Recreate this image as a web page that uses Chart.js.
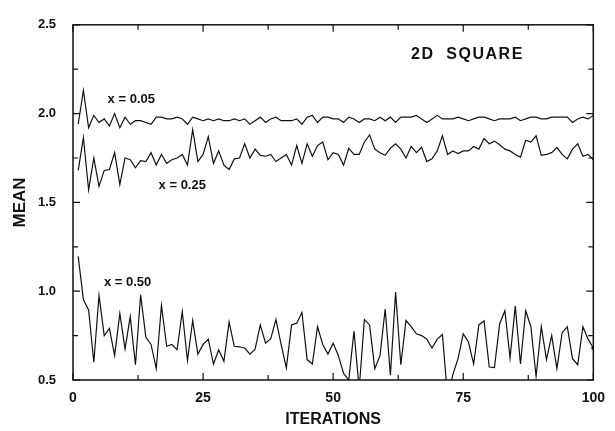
<!DOCTYPE html>
<html>
<head>
<meta charset="utf-8">
<script src="https://cdn.jsdelivr.net/npm/chart.js@4/dist/chart.umd.min.js"></script>
<style>
  html, body { margin: 0; padding: 0; background: #fff; }
  #wrap { width: 615px; height: 431px; }
</style>
</head>
<body>
<div id="wrap"><canvas id="c" width="615" height="431"></canvas></div>
<script>
// iteration number of every point
var iterations = [1,2,3,4,5,6,7,8,9,10,11,12,13,14,15,16,17,18,19,20,
  21,22,23,24,25,26,27,28,29,30,31,32,33,34,35,36,37,38,39,40,
  41,42,43,44,45,46,47,48,49,50,51,52,53,54,55,56,57,58,59,60,
  61,62,63,64,65,66,67,68,69,70,71,72,73,74,75,76,77,78,79,80,
  81,82,83,84,85,86,87,88,89,90,91,92,93,94,95,96,97,98,99,100];

// mean for x = 0.05
var mean005 = [1.94,2.13,1.92,1.99,1.95,1.97,1.93,2.00,1.92,1.98,
  1.94,1.96,1.96,1.95,1.94,1.98,1.98,1.97,1.97,1.98,
  1.97,1.94,1.98,1.97,1.96,1.97,1.96,1.97,1.96,1.96,
  1.97,1.96,1.97,1.94,1.96,1.98,1.95,1.97,1.98,1.96,
  1.96,1.96,1.97,1.94,1.98,1.99,1.95,1.98,1.98,1.97,
  1.97,1.95,1.98,1.97,1.95,1.97,1.97,1.96,1.98,1.96,
  1.98,1.95,1.98,1.98,1.98,1.99,1.97,1.95,1.97,1.99,
  1.97,1.97,1.97,1.98,1.97,1.96,1.97,1.98,1.98,1.97,
  1.96,1.97,1.97,1.97,1.98,1.96,1.97,1.98,1.98,1.97,
  1.97,1.98,1.98,1.98,1.98,1.95,1.97,1.98,1.97,1.99];

// mean for x = 0.25
var mean025 = [1.68,1.865,1.57,1.75,1.59,1.68,1.685,1.78,1.60,1.75,
  1.74,1.695,1.735,1.73,1.78,1.71,1.77,1.72,1.74,1.75,
  1.77,1.71,1.91,1.73,1.77,1.87,1.72,1.79,1.71,1.685,
  1.745,1.75,1.83,1.75,1.80,1.765,1.76,1.77,1.73,1.75,
  1.77,1.71,1.82,1.72,1.83,1.76,1.82,1.84,1.74,1.78,
  1.77,1.71,1.805,1.77,1.77,1.84,1.88,1.80,1.78,1.765,
  1.805,1.83,1.80,1.75,1.815,1.78,1.81,1.73,1.745,1.79,
  1.875,1.77,1.79,1.775,1.79,1.79,1.815,1.80,1.86,1.83,
  1.845,1.825,1.80,1.79,1.77,1.755,1.85,1.84,1.875,1.765,
  1.77,1.78,1.81,1.77,1.745,1.80,1.83,1.76,1.77,1.74];

// mean for x = 0.50 (dips under 0.5 are cut by the frame)
var mean050 = [1.196,0.952,0.894,0.60,0.976,0.75,0.79,0.637,0.875,0.674,
  0.857,0.586,0.98,0.74,0.70,0.564,0.92,0.69,0.70,0.67,
  0.885,0.61,0.835,0.646,0.70,0.73,0.59,0.67,0.605,0.826,
  0.69,0.687,0.68,0.646,0.674,0.81,0.707,0.733,0.84,0.70,
  0.568,0.81,0.82,0.88,0.615,0.59,0.80,0.70,0.646,0.707,
  0.637,0.537,0.50,0.775,0.45,0.84,0.81,0.564,0.637,0.90,
  0.527,0.995,0.586,0.835,0.80,0.76,0.75,0.73,0.68,0.73,
  0.756,0.40,0.53,0.62,0.76,0.714,0.59,0.81,0.833,0.573,
  0.57,0.817,0.89,0.625,0.916,0.59,0.89,0.80,0.52,0.80,
  0.615,0.75,0.564,0.765,0.80,0.62,0.586,0.80,0.73,0.68];

var xTicks = [0, 25, 50, 75, 100];
var yTicks = [0.5, 1.0, 1.5, 2.0, 2.5];

// text written inside the frame, in data units
var notes = [
  { text: "2D  SQUARE", x: 75.8, y: 2.335, size: 16, spacing: 1.5 },
  { text: "x = 0.05", x: 11.2, y: 2.081, size: 13, spacing: 0 },
  { text: "x = 0.25", x: 21.0, y: 1.596, size: 13, spacing: 0 },
  { text: "x = 0.50", x: 10.5, y: 1.051, size: 13, spacing: 0 }
];

var FONT = "'Liberation Sans', Arial, sans-serif";

function pairs(ys){
  var out = [];
  for (var i = 0; i < ys.length; i++){
    out.push({ x: iterations[i], y: ys[i] });
  }
  return out;
}

function series(ys, lastDot){
  return {
    data: pairs(ys),
    borderColor: "#111",
    borderWidth: 1.2,
    tension: 0,
    fill: false,
    pointRadius: function(ctx){ return (lastDot && ctx.dataIndex === ys.length - 1) ? 2 : 0; },
    pointBackgroundColor: "#111",
    pointBorderWidth: 0
  };
}

// frame, inward ticks and the notes
var framePlugin = {
  id: "frame",
  afterDatasetsDraw: function(chart){
    var ctx = chart.ctx, a = chart.chartArea;
    var xs = chart.scales.x, ys = chart.scales.y;
    ctx.save();
    ctx.strokeStyle = "#111";
    ctx.lineWidth = 1.5;
    ctx.strokeRect(a.left, a.top, a.right - a.left, a.bottom - a.top);
    ctx.lineWidth = 1.2;
    ctx.beginPath();
    for (var v = 0; v <= 100; v += 12.5){
      var px = xs.getPixelForValue(v);
      var len = (v % 25 === 0) ? 7 : 5;
      ctx.moveTo(px, a.bottom); ctx.lineTo(px, a.bottom - len);
      ctx.moveTo(px, a.top); ctx.lineTo(px, a.top + len);
    }
    for (var w = 0.5; w <= 2.5001; w += 0.25){
      var py = ys.getPixelForValue(w);
      var l2 = (Math.abs(w * 2 - Math.round(w * 2)) < 1e-6) ? 7 : 5;
      ctx.moveTo(a.left, py); ctx.lineTo(a.left + l2, py);
      ctx.moveTo(a.right, py); ctx.lineTo(a.right - l2, py);
    }
    ctx.stroke();

    ctx.fillStyle = "#111";
    ctx.textAlign = "center";
    ctx.textBaseline = "middle";
    notes.forEach(function(n){
      ctx.font = "bold " + n.size + "px " + FONT;
      ctx.letterSpacing = n.spacing + "px";
      ctx.fillText(n.text, xs.getPixelForValue(n.x), ys.getPixelForValue(n.y));
    });
    ctx.restore();
  }
};

var chart = new Chart(document.getElementById("c").getContext("2d"), {
  type: "line",
  data: {
    datasets: [series(mean005, false), series(mean025, false), series(mean050, true)]
  },
  options: {
    responsive: false,
    animation: false,
    devicePixelRatio: 1,
    layout: { padding: { top: 17, right: 17, left: 0, bottom: 0 } },
    plugins: { legend: { display: false }, tooltip: { enabled: false } },
    scales: {
      x: {
        type: "linear",
        min: 0, max: 100,
        afterBuildTicks: function(s){ s.ticks = xTicks.map(function(v){ return { value: v }; }); },
        afterFit: function(s){ s.height = 51; },
        grid: { display: false, drawTicks: false },
        border: { display: false },
        ticks: {
          color: "#111", padding: 10,
          font: { family: FONT, size: 14, weight: "bold" },
          maxRotation: 0
        },
        title: {
          display: true, text: "ITERATIONS", color: "#111",
          font: { family: FONT, size: 16, weight: "bold" },
          padding: { top: 0, bottom: 2 }
        }
      },
      y: {
        min: 0.5, max: 2.5,
        afterBuildTicks: function(s){ s.ticks = yTicks.map(function(v){ return { value: v }; }); },
        afterFit: function(s){ s.width = 73; },
        grid: { display: false, drawTicks: false },
        border: { display: false },
        ticks: {
          color: "#111", padding: 17,
          font: { family: FONT, size: 13, weight: "bold" },
          callback: function(v){ return Number(v).toFixed(1); }
        },
        title: {
          display: true, text: "MEAN", color: "#111",
          font: { family: FONT, size: 17, weight: "bold" },
          padding: { top: 10, bottom: 0 }
        }
      }
    }
  },
  plugins: [framePlugin]
});
</script>
</body>
</html>
